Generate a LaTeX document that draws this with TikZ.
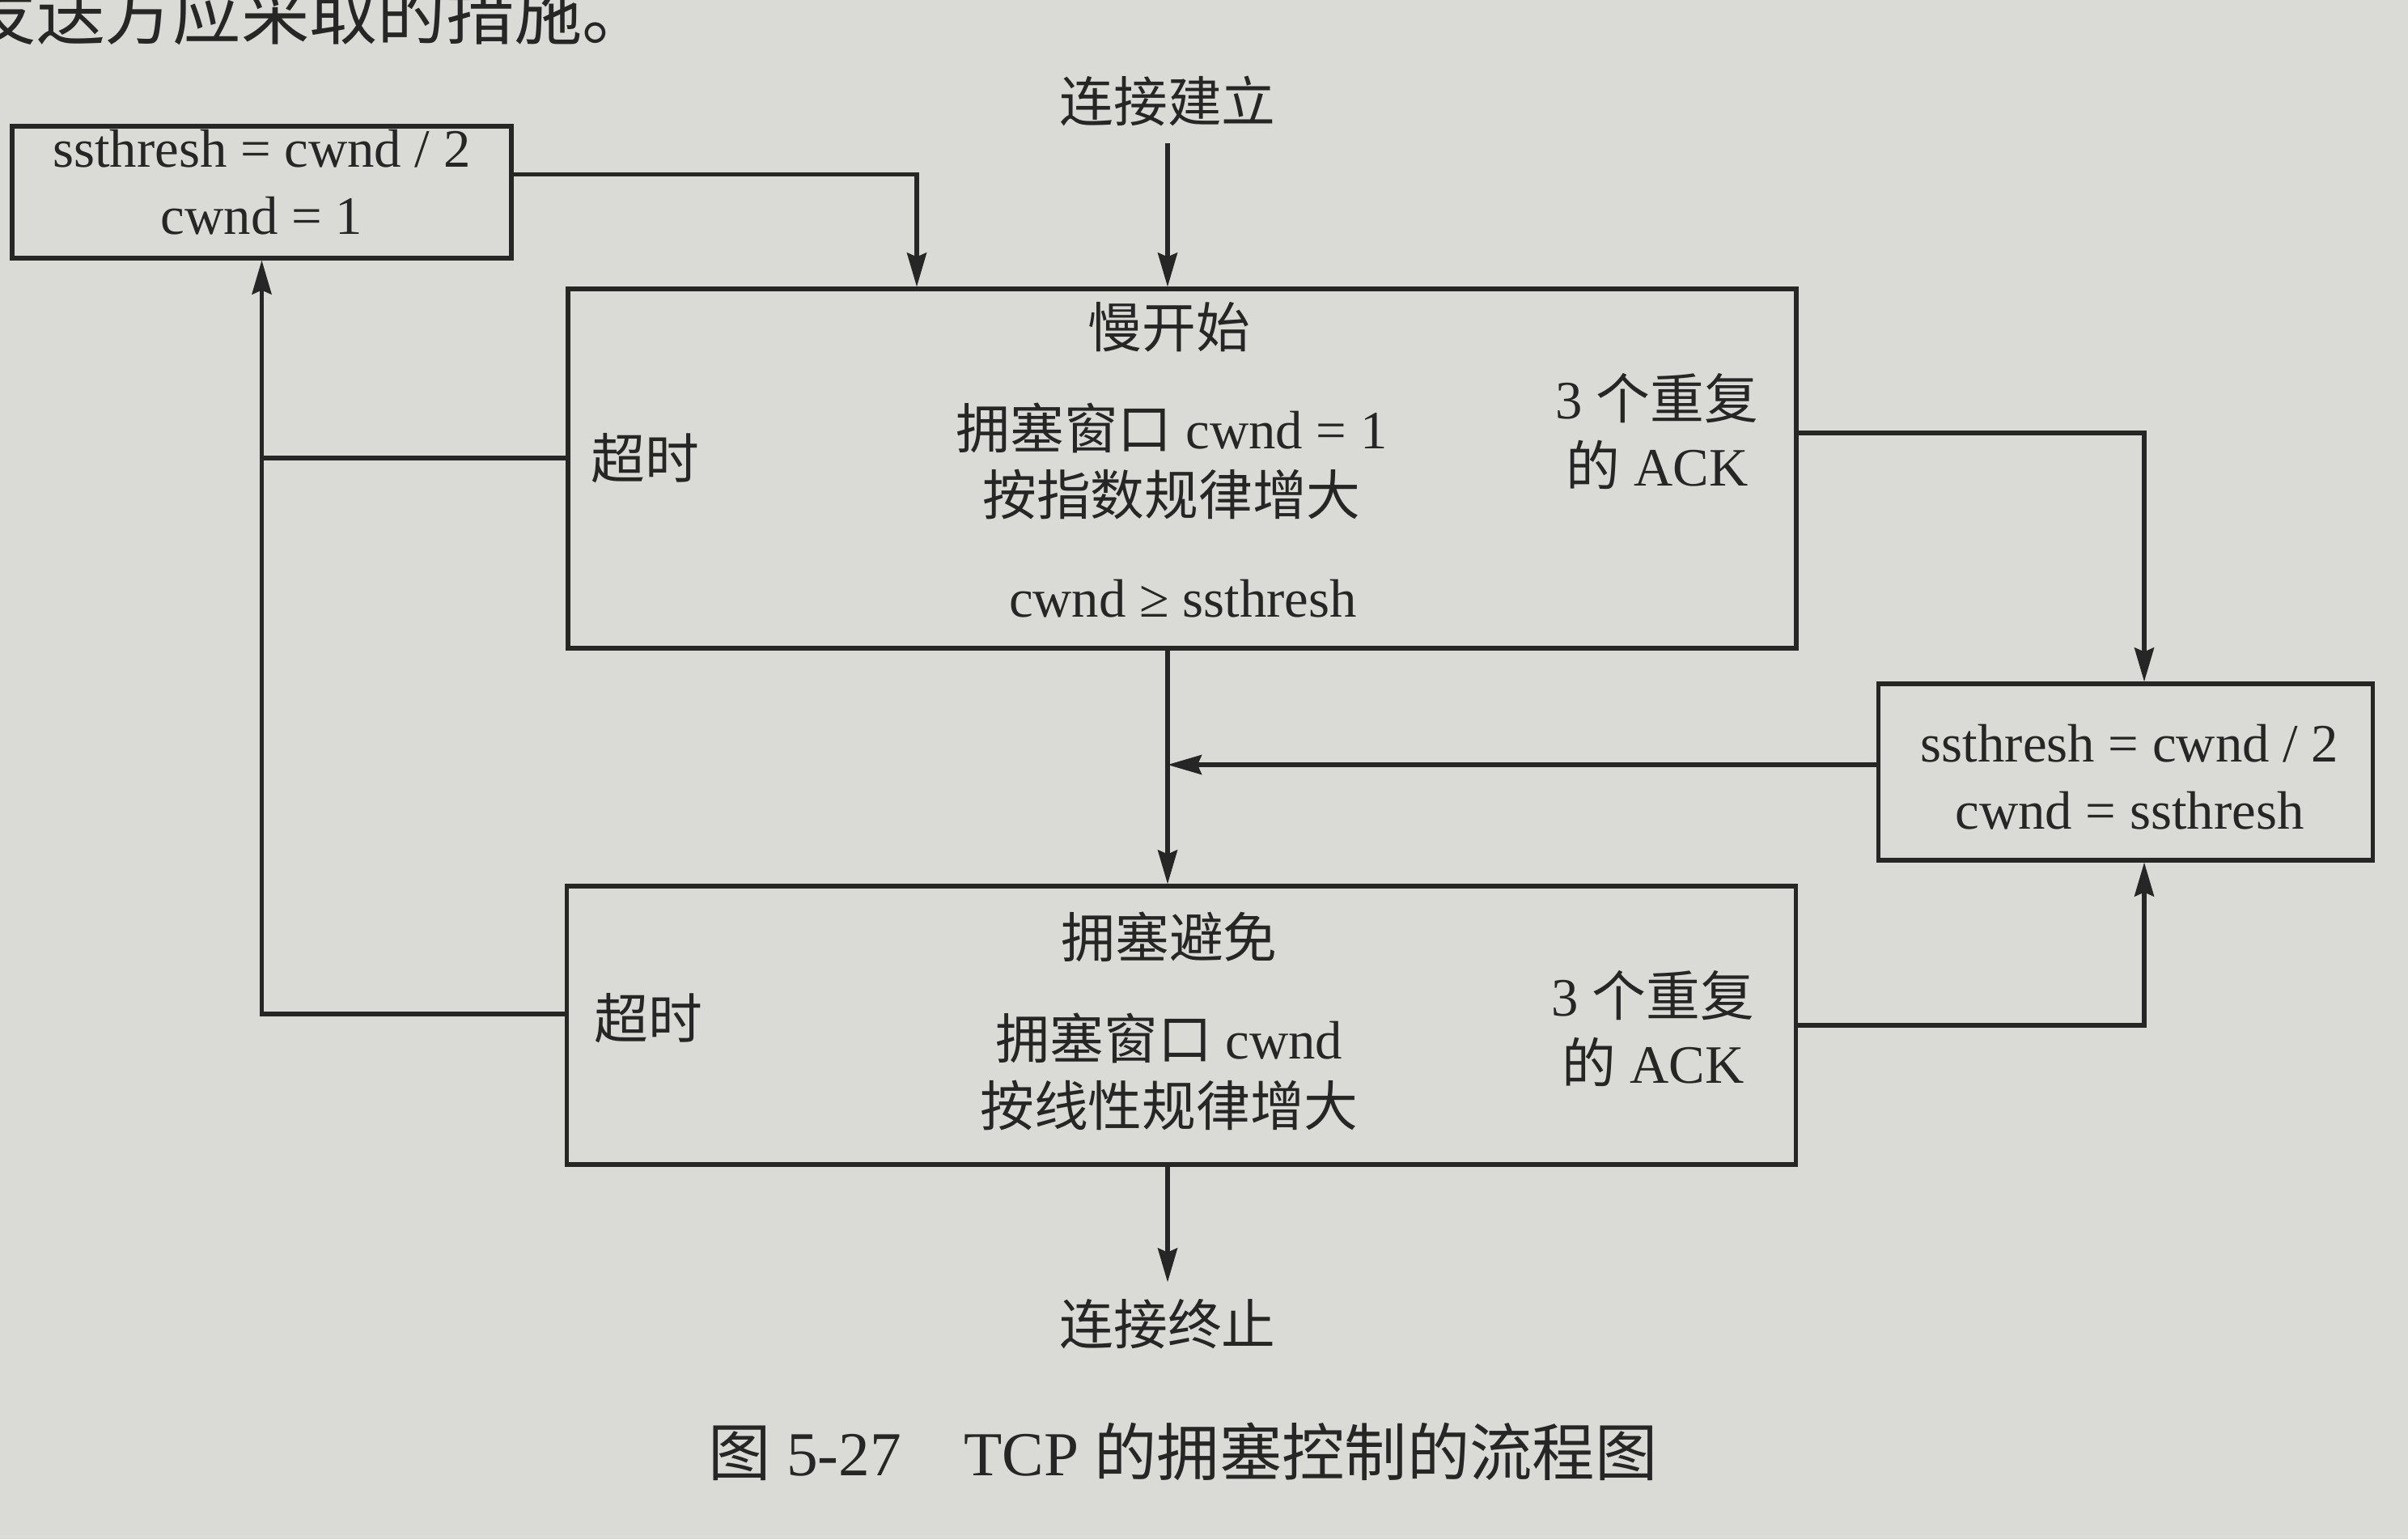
\documentclass[tikz,border=0pt]{standalone}
\usepackage{fontspec}
\setmainfont{Liberation Serif}
\newfontfamily\cjk{Noto Sans CJK SC}
\usetikzlibrary{arrows.meta}
\definecolor{paper}{RGB}{218,219,215}
\definecolor{ink}{RGB}{38,38,38}
\begin{document}
\begin{tikzpicture}[x=1cm,y=1cm,
  box/.style={draw=ink, line width=1.45pt, rectangle, inner sep=0pt},
  lbl/.style={text=ink, inner sep=0pt, align=center,
              font=\fontsize{19pt}{23.6pt}\selectfont},
  term/.style={lbl, inner sep=2mm},
  arr/.style={draw=ink, line width=1.45pt,
              -{Stealth[length=4.2mm,width=2.4mm,inset=0.5mm]}},
  wire/.style={draw=ink, line width=1.45pt}]
\clip (0,0) rectangle (29.76,-19.02);
\fill[paper] (0,0) rectangle (29.76,-19.02);

% running text of the page above the figure
\node[anchor=base west, text=ink, inner sep=0pt,
      font=\fontsize{24pt}{28pt}\selectfont\cjk] (prose) at (-0.40,-0.48) {发送方应采取的措施。};

% boxes
\node[box, minimum width=6.17cm, minimum height=1.63cm] (tl) at (3.235,-2.375) {};
\node[box, minimum width=15.18cm, minimum height=4.44cm] (ss) at (14.61,-5.79) {};
\node[box, minimum width=6.11cm, minimum height=2.18cm] (rb) at (26.27,-9.54) {};
\node[box, minimum width=15.19cm, minimum height=3.44cm] (ca) at (14.6,-12.67) {};

% texts of the boxes
\node[lbl] (tlt) at (3.235,-2.25) {ssthresh = cwnd / 2\\cwnd = 1};
\node[lbl] (rbt) at (26.32,-9.6) {ssthresh = cwnd / 2\\cwnd = ssthresh};

\node[lbl] (sst) at (14.45,-4.04) {\cjk 慢开始};
\node[lbl] (ssm) at (14.48,-5.70) {{\cjk 拥塞窗口} cwnd = 1\\{\cjk 按指数规律增大}};
\node[lbl] (ssc) at (14.62,-7.40) {cwnd ≥ ssthresh};
\node[lbl] (sso) at (7.97,-5.66) {\cjk 超时};
\node[lbl] (ssa) at (20.48,-5.33) {3 {\cjk 个重复}\\{\cjk 的} ACK};

\node[lbl] (cat) at (14.45,-11.58) {\cjk 拥塞避免};
\node[lbl] (cam) at (14.45,-13.24) {{\cjk 拥塞窗口} cwnd\\{\cjk 按线性规律增大}};
\node[lbl] (cao) at (8.01,-12.58) {\cjk 超时};
\node[lbl] (caa) at (20.43,-12.71) {3 {\cjk 个重复}\\{\cjk 的} ACK};

% start and end
\node[term] (start) at (14.43,-1.25) {\cjk 连接建立};
\node[term] (end) at (14.43,-16.36) {\cjk 连接终止};

% caption
\node[lbl, font=\fontsize{22pt}{26pt}\selectfont] (cap) at (14.62,-17.94)
  {{\cjk 图} 5-27\hspace{1em}TCP {\cjk 的拥塞控制的流程图}};

% turning points of the connectors
\coordinate (kA) at (11.33,0);
\coordinate (kC) at (14.43,0);
\coordinate (kR) at (26.5,0);

% connectors
\draw[arr] (start) -- (ss.north -| kC);
\draw[arr] ([yshift=2.2mm]tl.east) -| (ss.north -| kA);
\draw[wire] ([yshift=1.3mm]ss.west) -- ([yshift=1.3mm]ss.west -| tl.south);
\draw[arr] ([yshift=1.4mm]ca.west) -| (tl.south);
\draw[arr] ([yshift=4.4mm]ss.east) -| (rb.north -| kR);
\draw[arr] (ca.east) -| (rb.south -| kR);
\draw[arr] ([yshift=0.9mm]rb.west) -- ([yshift=0.9mm]rb.west -| kC);
\draw[arr] (ss.south -| kC) -- (ca.north -| kC);
\draw[arr] (ca.south -| kC) -- (end);
\end{tikzpicture}
\end{document}
